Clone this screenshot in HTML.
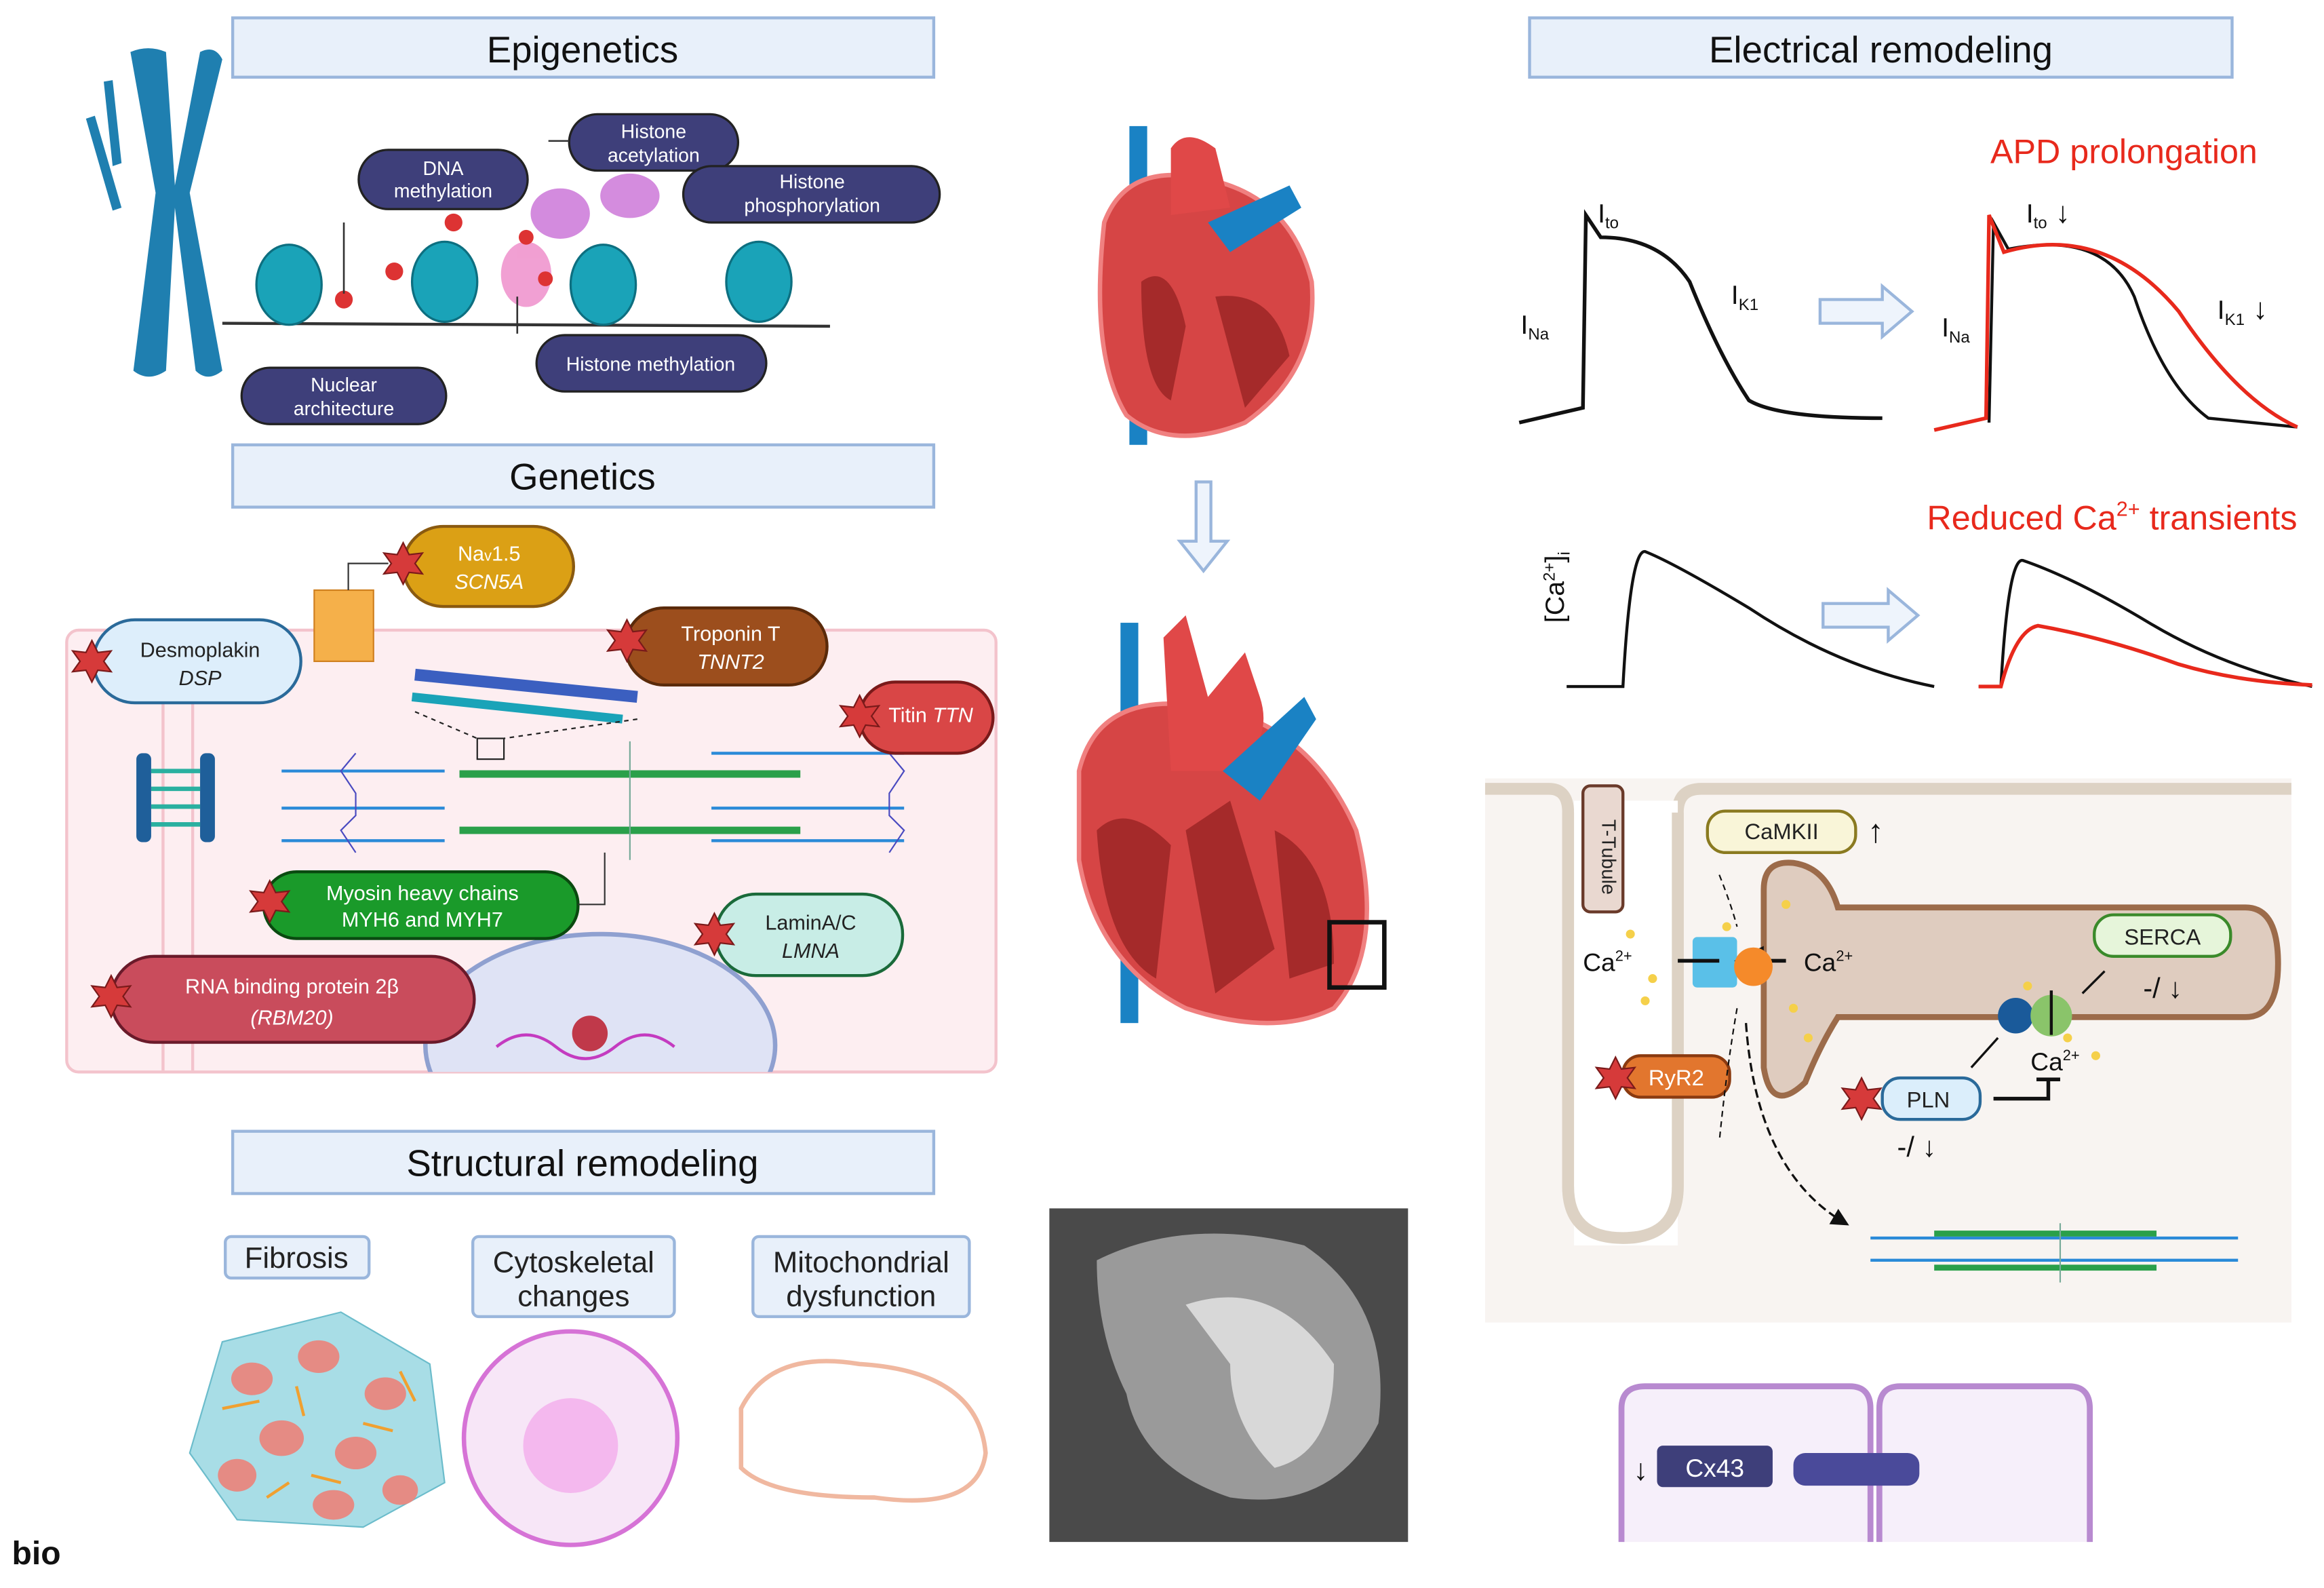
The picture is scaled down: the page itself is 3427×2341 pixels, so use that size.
<!DOCTYPE html>
<html><head><meta charset="utf-8"><style>
html,body{margin:0;padding:0;background:#fff}
svg{display:block}
text{font-family:"Liberation Sans",sans-serif}
</style></head><body>
<svg width="3427" height="2341" viewBox="0 0 1568 1071" xmlns="http://www.w3.org/2000/svg">
<defs>
<marker id="ah" markerWidth="8" markerHeight="8" refX="6" refY="4" orient="auto"><path d="M0,0L8,4L0,8z" fill="#111"/></marker>
<polygon id="st" points="0,-14 4,-6 13,-7 8,0 13,7 4,6 0,14 -4,6 -13,7 -8,0 -13,-7 -4,-6"/>
<clipPath id="gc"><rect x="45" y="425" width="627" height="298"/></clipPath>
</defs>
<rect width="1568" height="1071" fill="#fff"/>

<!-- Title boxes -->
<g fill="#e8f0fa" stroke="#9ab6dc" stroke-width="2">
<rect x="157" y="12" width="473" height="40"/>
<rect x="157" y="300" width="473" height="42"/>
<rect x="157" y="763" width="473" height="42"/>
<rect x="1032" y="12" width="474" height="40"/>
</g>
<g font-size="25" fill="#111" text-anchor="middle">
<text x="393" y="42">Epigenetics</text>
<text x="393" y="330">Genetics</text>
<text x="393" y="793">Structural remodeling</text>
<text x="1269" y="42">Electrical remodeling</text>
</g>

<!-- Chromosome -->
<g fill="#1f7fb0">
<path d="M88,35 Q100,30 112,35 L118,125 L135,35 Q145,30 150,40 L128,130 L150,250 Q140,258 132,250 L118,140 L112,250 Q100,258 90,250 L105,130 Z"/>
<path d="M58,80 L64,78 L82,140 L76,142Z M70,55 L76,54 L82,110 L76,112Z"/>
</g>
<path d="M150,218 L560,220" stroke="#333" stroke-width="2" fill="none"/>
<g fill="#1aa3b8" stroke="#0d6f80" stroke-width="1.5">
<ellipse cx="195" cy="192" rx="22" ry="27"/>
<ellipse cx="300" cy="190" rx="22" ry="27"/>
<ellipse cx="407" cy="192" rx="22" ry="27"/>
<ellipse cx="512" cy="190" rx="22" ry="27"/>
</g>
<g fill="#c96fd6" opacity="0.8"><ellipse cx="378" cy="144" rx="20" ry="17"/><ellipse cx="425" cy="132" rx="20" ry="15"/><ellipse cx="355" cy="185" rx="17" ry="22" fill="#ee88c8"/></g>
<g fill="#d33"><circle cx="232" cy="202" r="6"/><circle cx="266" cy="183" r="6"/><circle cx="306" cy="150" r="6"/><circle cx="355" cy="160" r="5"/><circle cx="368" cy="188" r="5"/></g>
<g fill="#3e3f7a" stroke="#222" stroke-width="1.5">
<rect x="242" y="101" width="114" height="40" rx="20"/>
<rect x="384" y="77" width="114" height="38" rx="19"/>
<rect x="461" y="112" width="173" height="38" rx="19"/>
<rect x="362" y="226" width="155" height="38" rx="19"/>
<rect x="163" y="248" width="138" height="38" rx="19"/>
</g>
<g fill="#fff" font-size="13" text-anchor="middle">
<text x="299" y="118">DNA</text><text x="299" y="133">methylation</text>
<text x="441" y="93">Histone</text><text x="441" y="109">acetylation</text>
<text x="548" y="127">Histone</text><text x="548" y="143">phosphorylation</text>
<text x="439" y="250">Histone methylation</text>
<text x="232" y="264">Nuclear</text><text x="232" y="280">architecture</text>
</g>
<g stroke="#333" stroke-width="1.2"><path d="M232,198 V150 M349,225 V200 M384,95 H370"/></g>

<!-- Genetics panel -->
<rect x="45" y="425" width="627" height="298" fill="#fdeef1" stroke="#f3c3cc" stroke-width="2" rx="8"/>
<path d="M110,425 V722 M130,425 V722" stroke="#f3c3cc" stroke-width="2"/>
<g clip-path="url(#gc)">
<ellipse cx="405" cy="705" rx="118" ry="75" fill="#dfe3f5" stroke="#8fa0d0" stroke-width="3"/>
<path d="M335,706 Q355,690 375,706 T415,706 T455,706" stroke="#c43bc0" stroke-width="2" fill="none"/>
<circle cx="398" cy="697" r="12" fill="#c0394a"/>
</g>
<g stroke="#2a8ad8" stroke-width="2"><path d="M190,520 H300 M190,545 H300 M190,567 H300 M480,508 H610 M480,545 H610 M480,567 H610"/></g>
<g stroke="#2aa04a" stroke-width="5"><path d="M310,522 H540 M310,560 H540"/></g>
<path d="M240,508 L230,520 L240,535 L240,550 L230,560 L240,575 M600,508 L610,520 L600,535 L600,550 L610,560 L600,575" stroke="#4a4ac0" fill="none"/>
<path d="M425,500 V580" stroke="#7a9" />
<path d="M280,455 L430,470" stroke="#3b5fc0" stroke-width="8"/>
<path d="M278,470 L420,485" stroke="#1aa3b8" stroke-width="6"/>
<rect x="322" y="498" width="18" height="14" fill="none" stroke="#222"/>
<path d="M280,480 L322,498 M430,485 L340,498" stroke="#222" stroke-dasharray="3,3"/>
<g fill="#1f5f9a"><rect x="92" y="508" width="10" height="60" rx="4"/><rect x="135" y="508" width="10" height="60" rx="4"/></g>
<g stroke="#2ab0a0" stroke-width="3"><path d="M102,520 H135 M102,532 H135 M102,544 H135 M102,556 H135"/></g>
<rect x="212" y="398" width="40" height="48" fill="#f5b04a" stroke="#d08020"/>
<g stroke-width="2">
<rect x="272" y="355" width="115" height="54" rx="27" fill="#dba015" stroke="#8a5a10"/>
<rect x="63" y="418" width="140" height="56" rx="28" fill="#ddeefb" stroke="#2a6a9a"/>
<rect x="422" y="410" width="136" height="52" rx="26" fill="#9c4e1d" stroke="#5a2a0a"/>
<rect x="580" y="460" width="90" height="48" rx="24" fill="#d94646" stroke="#7a1a1a"/>
<rect x="178" y="588" width="212" height="45" rx="22" fill="#1a9a2a" stroke="#0a4a10"/>
<rect x="483" y="603" width="126" height="55" rx="27" fill="#c8ede6" stroke="#1a6a3a"/>
<rect x="75" y="645" width="245" height="58" rx="29" fill="#c94c5c" stroke="#6a1a2a"/>
</g>
<g font-size="14" text-anchor="middle">
<text x="330" y="378" fill="#fff">Na<tspan font-size="10">v</tspan>1.5</text><text x="330" y="397" fill="#fff" font-style="italic">SCN5A</text>
<text x="135" y="443" fill="#222">Desmoplakin</text><text x="135" y="462" fill="#222" font-style="italic">DSP</text>
<text x="493" y="432" fill="#fff">Troponin T</text><text x="493" y="451" fill="#fff" font-style="italic">TNNT2</text>
<text x="628" y="487" fill="#fff">Titin <tspan font-style="italic">TTN</tspan></text>
<text x="285" y="607" fill="#fff">Myosin heavy chains</text><text x="285" y="625" fill="#fff">MYH6 and MYH7</text>
<text x="547" y="627" fill="#222">LaminA/C</text><text x="547" y="646" fill="#222" font-style="italic">LMNA</text>
<text x="197" y="670" fill="#fff">RNA binding protein 2β</text><text x="197" y="691" fill="#fff" font-style="italic">(RBM20)</text>
</g>
<g fill="#d63a3a" stroke="#7a1a1a">
<use href="#st" x="272" y="380"/><use href="#st" x="62" y="446"/><use href="#st" x="423" y="432"/>
<use href="#st" x="580" y="483"/><use href="#st" x="182" y="608"/><use href="#st" x="482" y="630"/><use href="#st" x="75" y="672"/>
</g>
<path d="M235,398 V380 H262" stroke="#333" fill="none"/>
<path d="M390,610 H408 V575" stroke="#333" fill="none"/>

<!-- Structural -->
<g fill="#e8f0fa" stroke="#9ab6dc" stroke-width="2">
<rect x="152" y="834" width="97" height="28" rx="4"/>
<rect x="319" y="834" width="136" height="54" rx="4"/>
<rect x="508" y="834" width="146" height="54" rx="4"/>
</g>
<g font-size="20" fill="#222" text-anchor="middle">
<text x="200" y="855">Fibrosis</text>
<text x="387" y="858">Cytoskeletal</text><text x="387" y="881">changes</text>
<text x="581" y="858">Mitochondrial</text><text x="581" y="881">dysfunction</text>
</g>
<path d="M150,905 L230,885 L290,920 L300,1000 L245,1030 L160,1025 L128,980 Z" fill="#a8dde6" stroke="#6bbccb"/>
<g stroke="#f0a030" stroke-width="2"><path d="M150,950 L175,945 M200,935 L205,955 M245,960 L265,965 M210,995 L230,1000 M180,1010 L195,1000 M270,925 L280,945"/></g>
<g fill="#e58b84"><ellipse cx="170" cy="930" rx="14" ry="11"/><ellipse cx="215" cy="915" rx="14" ry="11"/><ellipse cx="260" cy="940" rx="14" ry="11"/><ellipse cx="190" cy="970" rx="15" ry="12"/><ellipse cx="240" cy="980" rx="14" ry="11"/><ellipse cx="160" cy="995" rx="13" ry="11"/><ellipse cx="225" cy="1015" rx="14" ry="10"/><ellipse cx="270" cy="1005" rx="12" ry="10"/></g>
<circle cx="385" cy="970" r="72" fill="#f7e6f7" stroke="#d673d6" stroke-width="3"/>
<circle cx="385" cy="975" r="32" fill="#f4b8ee"/>
<path d="M500,950 Q520,910 580,920 Q660,925 665,980 Q660,1020 590,1010 Q520,1010 500,990 Z" fill="#fff" stroke="#f0b8a0" stroke-width="3"/>

<!-- MRI -->
<rect x="708" y="815" width="242" height="225" fill="#4a4a4a"/>
<path d="M740,850 Q800,820 880,840 Q940,880 930,960 Q900,1020 830,1010 Q770,990 760,940 Q740,900 740,850Z" fill="#9a9a9a"/>
<path d="M800,880 Q860,860 900,920 Q900,980 860,990 Q830,960 830,920 Z" fill="#d8d8d8"/>

<!-- Hearts -->
<g>
<rect x="762" y="85" width="12" height="215" fill="#1a82c4"/>
<path d="M745,150 Q760,110 810,120 Q870,130 885,190 Q890,250 840,285 Q790,305 760,280 Q735,240 745,150Z" fill="#d64545" stroke="#f08080" stroke-width="3"/>
<path d="M790,100 Q800,85 820,100 L830,140 L790,145Z" fill="#e04848"/>
<path d="M815,150 L870,125 L878,140 L830,170Z" fill="#1a82c4"/>
<path d="M770,190 Q790,175 800,220 L790,270 Q770,260 770,190Z M820,200 Q860,195 870,240 L840,275 Z" fill="#a52a2a"/>
</g>
<g>
<rect x="756" y="420" width="12" height="270" fill="#1a82c4"/>
<path d="M728,520 Q740,470 800,475 Q880,480 915,560 Q935,640 900,680 Q860,700 800,680 Q740,650 728,580Z" fill="#d64545" stroke="#f08080" stroke-width="3"/>
<path d="M785,430 L800,415 L815,470 L840,440 L850,470 Q860,500 830,520 L790,520Z" fill="#e04848"/>
<path d="M825,520 L880,470 L888,485 L850,540Z" fill="#1a82c4"/>
<path d="M740,560 Q760,540 790,570 L780,660 Q745,640 740,560Z M800,560 L830,540 L860,640 L820,670Z M860,560 Q900,580 900,650 L870,660Z" fill="#a52a2a"/>
<rect x="897" y="622" width="37" height="44" fill="none" stroke="#111" stroke-width="3"/>
</g>
<path d="M807,325 H817 V365 H828 L812,385 L796,365 H807Z" fill="#eef4fc" stroke="#9ab6dc" stroke-width="2"/>

<!-- Electrical: AP -->
<text x="1433" y="110" fill="#e8291c" font-size="23" text-anchor="middle">APD prolongation</text>
<text x="1425" y="357" fill="#e8291c" font-size="23" text-anchor="middle">Reduced Ca<tspan font-size="14" dy="-9">2+</tspan><tspan dy="9"> transients</tspan></text>
<path d="M1025,285 L1068,275 L1070,145 L1080,160 Q1120,160 1140,190 Q1160,240 1180,270 Q1200,282 1270,282" stroke="#111" stroke-width="2.5" fill="none"/>
<path d="M1342,285 L1345,150 L1355,168 Q1420,155 1440,200 Q1460,260 1490,282 L1550,288" stroke="#111" stroke-width="2" fill="none"/>
<path d="M1305,290 L1340,282 L1342,145 L1352,170 Q1420,150 1470,210 Q1510,270 1550,288" stroke="#e8291c" stroke-width="2.5" fill="none"/>
<g font-size="18" fill="#111">
<text x="1078" y="150">I<tspan font-size="11" dy="4">to</tspan></text>
<text x="1168" y="205">I<tspan font-size="11" dy="4">K1</tspan></text>
<text x="1026" y="225">I<tspan font-size="11" dy="4">Na</tspan></text>
<text x="1367" y="150">I<tspan font-size="11" dy="4">to</tspan><tspan dy="-4" font-size="20"> ↓</tspan></text>
<text x="1496" y="215">I<tspan font-size="11" dy="4">K1</tspan><tspan dy="-4" font-size="20">  ↓</tspan></text>
<text x="1310" y="227">I<tspan font-size="11" dy="4">Na</tspan></text>
<text x="1035" y="440" transform="rotate(-90 1035 420)">[Ca<tspan font-size="11" dy="-6">2+</tspan><tspan dy="6">]</tspan><tspan font-size="11" dy="4">i</tspan></text>
</g>
<g fill="#eef4fc" stroke="#9ab6dc" stroke-width="2">
<path d="M1228,202 H1270 V193 L1290,210 L1270,227 V218 H1228Z"/>
<path d="M1230,407 H1274 V398 L1294,415 L1274,432 V423 H1230Z"/>
</g>
<path d="M1057,463 H1095 Q1100,370 1110,372 Q1130,380 1180,410 Q1240,450 1305,463" stroke="#111" stroke-width="2" fill="none"/>
<path d="M1335,463 H1350 Q1355,375 1365,378 Q1400,390 1450,420 Q1500,450 1560,463" stroke="#111" stroke-width="2" fill="none"/>
<path d="M1335,463 H1350 Q1360,425 1375,422 Q1420,430 1470,448 Q1510,460 1560,462" stroke="#e8291c" stroke-width="2.5" fill="none"/>

<!-- Cell panel -->
<rect x="1002" y="525" width="544" height="367" fill="#f8f4f1"/>
<path d="M1002,532 H1045 Q1058,532 1058,548 V800 Q1058,835 1095,835 Q1132,835 1132,800 V548 Q1132,532 1148,532 H1546" stroke="#ddd2c4" stroke-width="8" fill="none"/>
<rect x="1062" y="540" width="70" height="300" fill="#fff"/>
<path d="M1058,548 V800 Q1058,835 1095,835 Q1132,835 1132,800 V548" stroke="#ddd2c4" stroke-width="8" fill="none"/>
<rect x="1068" y="530" width="27" height="85" rx="5" fill="#e9d8d0" stroke="#6a3a2a" stroke-width="2"/>
<text x="1087" y="572" font-size="13" fill="#222" text-anchor="middle" transform="rotate(90 1081 572)">T-Tubule</text>
<path d="M1190,600 Q1190,580 1210,582 Q1232,585 1240,612 H1515 Q1537,612 1537,650 Q1537,686 1515,686 H1240 Q1228,705 1218,730 Q1195,752 1190,720Z" fill="#dfccbf" stroke="#9c6b4a" stroke-width="4"/>
<rect x="1152" y="547" width="100" height="28" rx="12" fill="#f9f5d8" stroke="#8a7a20" stroke-width="2"/>
<text x="1202" y="566" font-size="15" fill="#222" text-anchor="middle">CaMKII</text>
<text x="1260" y="568" font-size="22" fill="#111">↑</text>
<rect x="1413" y="617" width="92" height="28" rx="13" fill="#e6f5da" stroke="#3a8a2a" stroke-width="2"/>
<text x="1459" y="637" font-size="15" fill="#222" text-anchor="middle">SERCA</text>
<text x="1446" y="673" font-size="19" fill="#111">-/ ↓</text>
<rect x="1142" y="632" width="30" height="34" fill="#5ac0e8" rx="3"/>
<path d="M1132,648 H1160 M1205,648 H1175" stroke="#111" stroke-width="2.5" marker-end="url(#ah)"/>
<circle cx="1183" cy="652" r="13" fill="#f58a2a"/>
<text x="1068" y="655" font-size="17" fill="#111">Ca<tspan font-size="10" dy="-7">2+</tspan></text>
<text x="1217" y="655" font-size="17" fill="#111">Ca<tspan font-size="10" dy="-7">2+</tspan></text>
<circle cx="1360" cy="685" r="12" fill="#1a5a9a"/>
<circle cx="1384" cy="685" r="14" fill="#8ac46a"/>
<path d="M1384,698 V668" stroke="#111" stroke-width="2"/>
<text x="1370" y="722" font-size="17" fill="#111">Ca<tspan font-size="10" dy="-7">2+</tspan></text>
<rect x="1095" y="712" width="72" height="28" rx="12" fill="#e2762e" stroke="#8a3a10" stroke-width="2"/>
<text x="1131" y="732" font-size="15" fill="#fff" text-anchor="middle">RyR2</text>
<rect x="1270" y="727" width="66" height="28" rx="12" fill="#dbeefb" stroke="#2a6a9a" stroke-width="2"/>
<text x="1301" y="747" font-size="15" fill="#222" text-anchor="middle">PLN</text>
<text x="1280" y="780" font-size="19" fill="#111">-/ ↓</text>
<path d="M1345,741 H1382 V728 M1374,728 H1390" stroke="#111" stroke-width="2.5" fill="none"/>
<path d="M1330,720 L1348,700 M1405,670 L1420,655" stroke="#111" stroke-width="1.5"/>
<g fill="#d63a3a" stroke="#7a1a1a"><use href="#st" x="1090" y="727"/><use href="#st" x="1256" y="741"/></g>
<path d="M1160,590 Q1168,610 1172,625 M1172,680 Q1165,720 1160,770" stroke="#111" stroke-dasharray="4,3" fill="none"/>
<path d="M1178,690 Q1185,790 1245,825" stroke="#111" stroke-width="1.5" stroke-dasharray="6,3" fill="none" marker-end="url(#ah)"/>
<g fill="#f5d04a"><circle cx="1115" cy="660" r="3"/><circle cx="1100" cy="630" r="3"/><circle cx="1110" cy="675" r="3"/><circle cx="1165" cy="625" r="3"/><circle cx="1205" cy="610" r="3"/><circle cx="1210" cy="680" r="3"/><circle cx="1220" cy="700" r="3"/><circle cx="1368" cy="665" r="3"/><circle cx="1395" cy="700" r="3"/><circle cx="1414" cy="712" r="3"/></g>
<g stroke="#2a8ad8" stroke-width="2"><path d="M1262,835 H1510 M1262,850 H1510"/></g>
<g stroke="#2aa04a" stroke-width="4"><path d="M1305,832 H1455 M1305,855 H1455"/></g>
<path d="M1390,825 V865" stroke="#7a9"/>

<!-- Cx43 -->
<path d="M1094,1040 V950 Q1094,935 1110,935 H1248 Q1262,935 1262,950 V1040" fill="#f6effa" stroke="#b88ad0" stroke-width="4"/>
<path d="M1268,1040 V950 Q1268,935 1282,935 H1396 Q1410,935 1410,950 V1040" fill="#f6effa" stroke="#b88ad0" stroke-width="4"/>
<rect x="1210" y="980" width="85" height="22" rx="8" fill="#4a4a9a"/>
<rect x="1118" y="975" width="78" height="28" rx="4" fill="#3e3f7a"/>
<text x="1157" y="996" font-size="17" fill="#fff" text-anchor="middle">Cx43</text>
<text x="1102" y="998" font-size="20" fill="#111">↓</text>

<text x="8" y="1055" font-size="22" font-weight="bold" fill="#111">bio</text>
</svg>
</body></html>
